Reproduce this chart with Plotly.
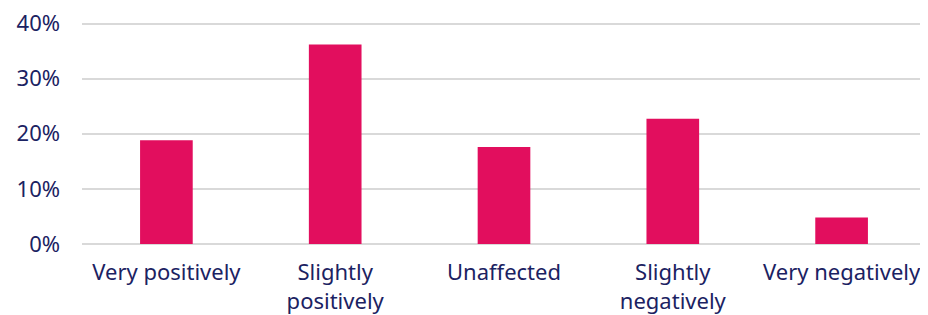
import plotly.graph_objects as go

categories = ["Very positively", "Slightly<br>positively", "Unaffected", "Slightly<br>negatively", "Very negatively"]
values = [18.8, 36.2, 17.6, 22.7, 4.8]
y_ticks = [0, 10, 20, 30, 40]
y_tick_labels = ["0%", "10%", "20%", "30%", "40%"]

navy = "#1b2262"
fig = go.Figure(go.Bar(
    x=categories, y=values,
    marker=dict(color="#e20e5e", line=dict(width=0)),
    hoverinfo="skip",
))
fig.update_layout(
    width=920, height=307,
    margin=dict(l=74, r=2, t=10, b=71, autoexpand=False),
    paper_bgcolor="white", plot_bgcolor="white",
    bargap=0.688,
    showlegend=False,
    font=dict(family="Noto Sans, sans-serif", size=22, color=navy),
)
fig.update_yaxes(
    range=[0, 41], tickvals=y_ticks, ticktext=y_tick_labels,
    showgrid=True, gridcolor="#d9d9d9", gridwidth=2,
    zeroline=True, zerolinecolor="#d9d9d9", zerolinewidth=2,
    showline=False, ticks="", ticklabelstandoff=21,
    ticklabeloverflow="allow",
)
fig.update_xaxes(showline=False, ticks="", showgrid=False, ticklabelstandoff=13,
                 ticklabeloverflow="allow")
fig.write_html("out.html")
